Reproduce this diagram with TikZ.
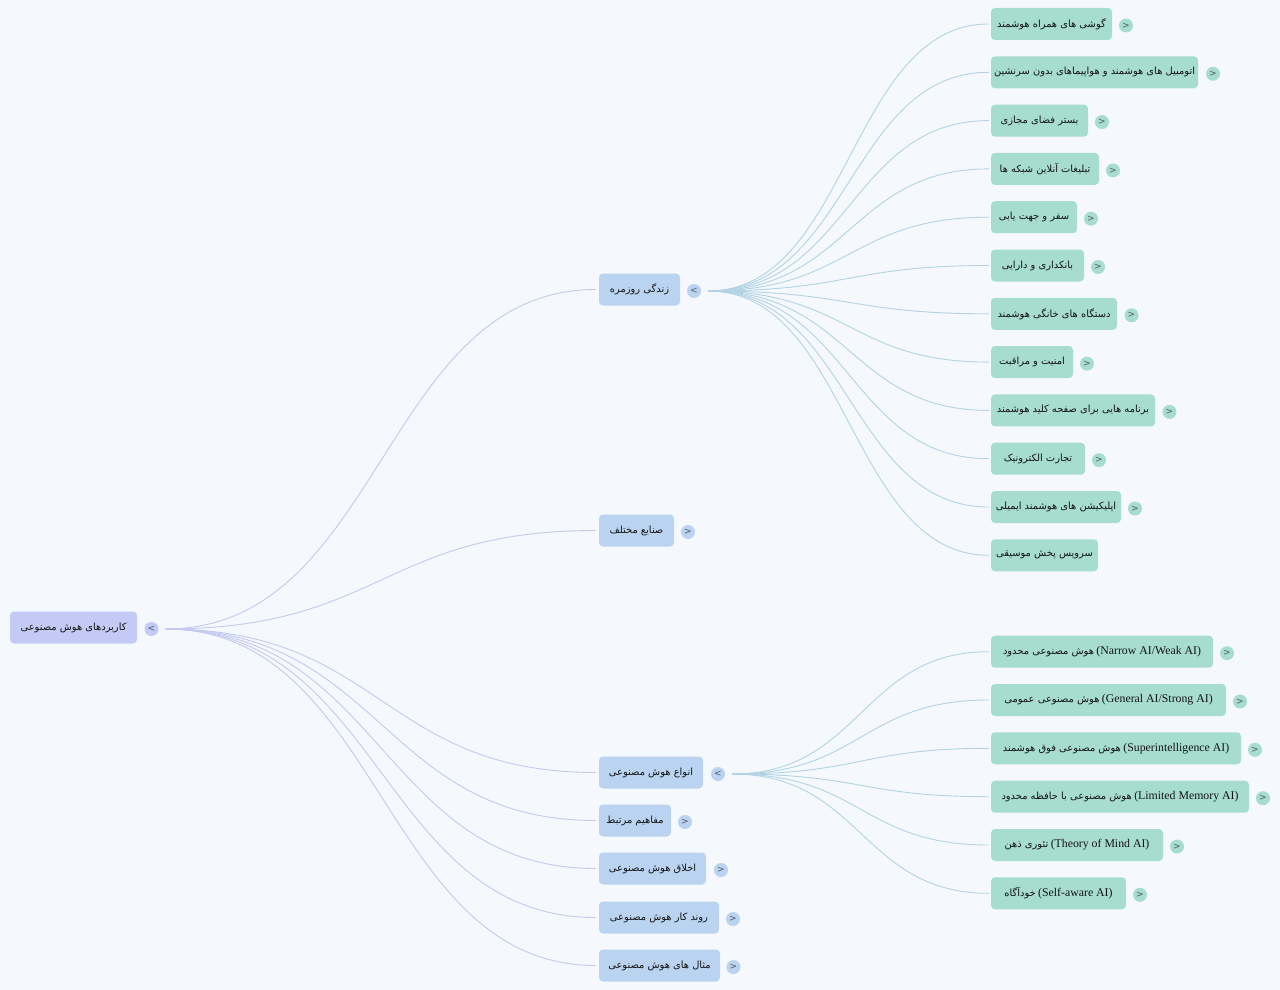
\documentclass[tikz,border=0pt]{standalone}
\usepackage{fontspec}
\usetikzlibrary{calc}
\setmainfont{Liberation Serif}
\newfontfamily\fa[Script=Arabic]{DejaVu Sans}
\newfontfamily\tgfont{DejaVu Sans}
\TeXXeTstate=1
\newcommand\fat[1]{{\fa\beginR #1\endR}}
\definecolor{bgc}{HTML}{F5F9FD}
\definecolor{rootc}{HTML}{C3CAF6}
\definecolor{lonec}{HTML}{BAD3F0}
\definecolor{ltwoc}{HTML}{A6DDCF}
\definecolor{linea}{HTML}{C3C9F0}
\definecolor{lineb}{HTML}{B2D3E4}
\definecolor{txtc}{HTML}{141414}
\definecolor{tgc}{HTML}{4F5866}
\tikzset{
  box/.style={rounded corners=4pt, minimum height=32, inner sep=0pt, text=txtc,
    font=\fontsize{9.9}{12}\selectfont},
  rootbox/.style={box, fill=rootc},
  onebox/.style={box, fill=lonec},
  twobox/.style={box, fill=ltwoc},
  tog/.style={circle, minimum size=14, inner sep=0pt, text=tgc,
    font=\tgfont\fontsize{9}{9}\selectfont},
  linkA/.style={draw=linea, line width=0.9pt, shorten >=3pt},
  linkB/.style={draw=lineb, line width=0.9pt, shorten >=2pt},
}
\newcommand\lt[1]{{\fontsize{11.8}{13}\selectfont #1}}
\newcommand\curve[3]{\draw[#1] (#2) .. controls ($(#2)!0.5!(#2 -| #3.west)$) and ($(#3.west)!0.5!(#3.west -| #2)$) .. (#3.west);}
\begin{document}
\begin{tikzpicture}[x=1pt,y=-1pt]
\useasboundingbox (0,0) rectangle (1280,990);
\fill[bgc] (0,0) rectangle (1280,990);

% root
\node[rootbox, minimum width=127] (r) at (73.5,627.5) {\fat{کاربردهای هوش مصنوعی}};
\node[tog, fill=rootc] (rt) at (151.5,629) {<};
\coordinate (ro) at ($(rt.center)+(14,0)$);

% level 1
\node[onebox, minimum width=81] (z) at (639.5,289.5) {\fat{زندگی روزمره}};
\node[tog, fill=lonec] (zt) at (694,291) {<};
\coordinate (zo) at ($(zt.center)+(14,0)$);
\node[onebox, minimum width=75] (s) at (636.5,530.5) {\fat{صنایع مختلف}};
\node[tog, fill=lonec] (st) at (688,532) {>};
\node[onebox, minimum width=104] (a) at (651,772.5) {\fat{انواع هوش مصنوعی}};
\node[tog, fill=lonec] (at) at (718,774) {<};
\coordinate (ao) at ($(at.center)+(14,0)$);
\node[onebox, minimum width=72] (m) at (635,820.5) {\fat{مفاهیم مرتبط}};
\node[tog, fill=lonec] (mt) at (685,822) {>};
\node[onebox, minimum width=107] (e) at (652.5,868.5) {\fat{اخلاق هوش مصنوعی}};
\node[tog, fill=lonec] (et) at (721,870) {>};
\node[onebox, minimum width=120] (w) at (659,917.5) {\fat{روند کار هوش مصنوعی}};
\node[tog, fill=lonec] (wt) at (733,919) {>};
\node[onebox, minimum width=121] (x) at (659.5,965.5) {\fat{مثال های هوش مصنوعی}};
\node[tog, fill=lonec] (xt) at (733.5,967) {>};

\foreach \n in {z,s,a,m,e,w,x}{\curve{linkA}{ro}{\n}}

% level 2 under z
\node[twobox, minimum width=121] (z1) at (1051.5,24) {\fat{گوشی های همراه هوشمند}};
\node[tog, fill=ltwoc] (z1t) at (1126,25.5) {>};
\node[twobox, minimum width=207] (z2) at (1094.5,72.3) {\fat{اتومبیل های هوشمند و هواپیماهای بدون سرنشین}};
\node[tog, fill=ltwoc] (z2t) at (1213,73.8) {>};
\node[twobox, minimum width=97] (z3) at (1039.5,120.6) {\fat{بستر فضای مجازی}};
\node[tog, fill=ltwoc] (z3t) at (1102,122.1) {>};
\node[twobox, minimum width=108] (z4) at (1045,168.9) {\fat{تبلیغات آنلاین شبکه ها}};
\node[tog, fill=ltwoc] (z4t) at (1113,170.4) {>};
\node[twobox, minimum width=86] (z5) at (1034,217.2) {\fat{سفر و جهت یابی}};
\node[tog, fill=ltwoc] (z5t) at (1091,218.7) {>};
\node[twobox, minimum width=93] (z6) at (1037.5,265.5) {\fat{بانکداری و دارایی}};
\node[tog, fill=ltwoc] (z6t) at (1098,267) {>};
\node[twobox, minimum width=126] (z7) at (1054,313.8) {\fat{دستگاه های خانگی هوشمند}};
\node[tog, fill=ltwoc] (z7t) at (1131.5,315.3) {>};
\node[twobox, minimum width=82] (z8) at (1032,362.1) {\fat{امنیت و مراقبت}};
\node[tog, fill=ltwoc] (z8t) at (1087,363.6) {>};
\node[twobox, minimum width=164] (z9) at (1073,410.4) {\fat{برنامه هایی برای صفحه کلید هوشمند}};
\node[tog, fill=ltwoc] (z9t) at (1169.5,411.9) {>};
\node[twobox, minimum width=94] (z10) at (1038,458.7) {\fat{تجارت الکترونیک}};
\node[tog, fill=ltwoc] (z10t) at (1099,460.2) {>};
\node[twobox, minimum width=130] (z11) at (1056,507) {\fat{اپلیکیشن های هوشمند ایمیلی}};
\node[tog, fill=ltwoc] (z11t) at (1135,508.5) {>};
\node[twobox, minimum width=107] (z12) at (1044.5,555.3) {\fat{سرویس پخش موسیقی}};

\foreach \n in {z1,z2,z3,z4,z5,z6,z7,z8,z9,z10,z11,z12}{\curve{linkB}{zo}{\n}}

% level 2 under a
\node[twobox, minimum width=222] (a1) at (1102,651.7) {\fat{هوش مصنوعی محدود} \lt{(Narrow AI/Weak AI)}};
\node[tog, fill=ltwoc] (a1t) at (1227,653.2) {>};
\node[twobox, minimum width=235] (a2) at (1108.5,700) {\fat{هوش مصنوعی عمومی} \lt{(General AI/Strong AI)}};
\node[tog, fill=ltwoc] (a2t) at (1240,701.5) {>};
\node[twobox, minimum width=250] (a3) at (1116,748.3) {\fat{هوش مصنوعی فوق هوشمند} \lt{(Superintelligence AI)}};
\node[tog, fill=ltwoc] (a3t) at (1255,749.8) {>};
\node[twobox, minimum width=258] (a4) at (1120,796.7) {\fat{هوش مصنوعی با حافظه محدود} \lt{(Limited Memory AI)}};
\node[tog, fill=ltwoc] (a4t) at (1263,798.2) {>};
\node[twobox, minimum width=172] (a5) at (1077,845) {\fat{تئوری ذهن} \lt{(Theory of Mind AI)}};
\node[tog, fill=ltwoc] (a5t) at (1177,846.5) {>};
\node[twobox, minimum width=135] (a6) at (1058.5,893.3) {\fat{خودآگاه} \lt{(Self-aware AI)}};
\node[tog, fill=ltwoc] (a6t) at (1140,894.8) {>};

\foreach \n in {a1,a2,a3,a4,a5,a6}{\curve{linkB}{ao}{\n}}
\end{tikzpicture}
\end{document}
